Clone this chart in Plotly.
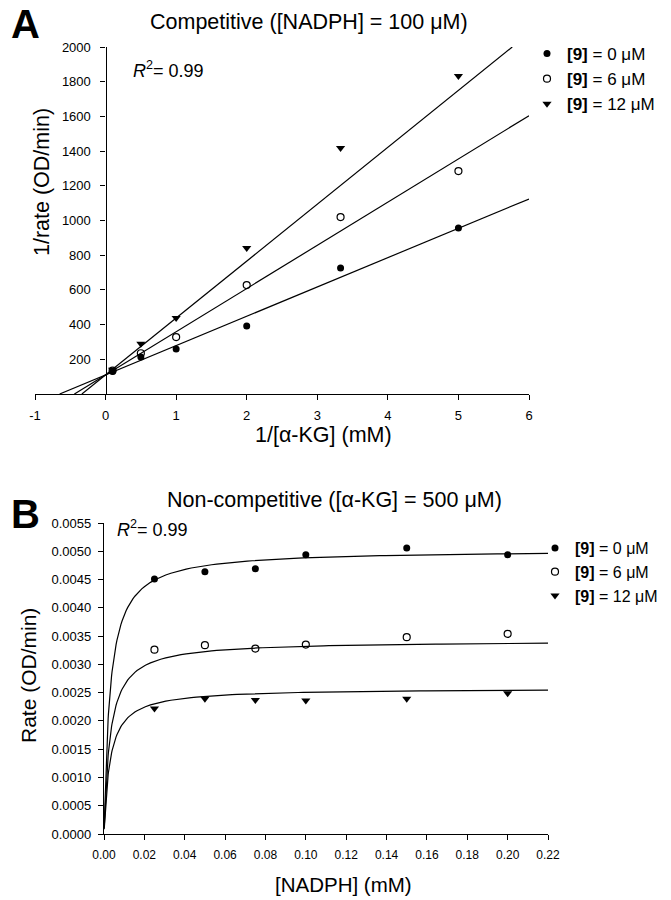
import numpy as np
import plotly.graph_objects as go

# ---------------- Data ----------------
# Panel A: Lineweaver-Burk, competitive
lb_x = [0.1, 0.5, 1.0, 2.0, 3.33, 5.0]
lb_y0 = [130, 213, 259, 392, 726, 957]      # [9] = 0 uM
lb_y6 = [135, 235, 328, 628, 1020, 1285]    # [9] = 6 uM
lb_y12 = [140, 290, 438, 841, 1418, 1833]   # [9] = 12 uM
lb_intercept = 110                           # shared 1/Vmax
lb_slopes = [169, 249, 328]                  # fitted slopes per inhibitor level

# Panel B: Michaelis-Menten, non-competitive
mm_x = [0.025, 0.05, 0.075, 0.10, 0.15, 0.20]
mm_y0 = [0.00451, 0.00464, 0.00469, 0.00494, 0.00506, 0.00494]
mm_y6 = [0.00326, 0.00334, 0.00328, 0.00335, 0.00348, 0.00354]
mm_y12 = [0.00222, 0.00239, 0.00237, 0.00236, 0.00239, 0.00249]
mm_km = 0.003                                # shared Km (mM)
mm_vmax = [0.00503, 0.00342, 0.00258]        # fitted Vmax per inhibitor level

series_names = ["<b>[9]</b> = 0 μM", "<b>[9]</b> = 6 μM", "<b>[9]</b> = 12 μM"]

A_xticks = [-1, 0, 1, 2, 3, 4, 5, 6]
A_xticktext = ["-1", "0", "1", "2", "3", "4", "5", "6"]
A_yticks = [200, 400, 600, 800, 1000, 1200, 1400, 1600, 1800, 2000]
B_xticks = [0.00, 0.02, 0.04, 0.06, 0.08, 0.10, 0.12, 0.14, 0.16, 0.18, 0.20, 0.22]
B_yticks = [0.0000, 0.0005, 0.0010, 0.0015, 0.0020, 0.0025, 0.0030, 0.0035,
            0.0040, 0.0045, 0.0050, 0.0055]

# ---------------- Styling ----------------
OFF = 8                      # page body margin
W, H = 671 - OFF, 900 - OFF  # figure size so it ends at the window edge
FONT = "Liberation Sans, Arial, sans-serif"
markers = [
    dict(symbol="circle", size=7, color="black"),
    dict(symbol="circle-open", size=7, color="black", line=dict(width=1.2, color="black")),
    dict(symbol="triangle-down", size=8, color="black"),
]

def px(x):  # screen pixel -> paper fraction
    return (x - OFF) / W

def py(y):
    return 1 - (y - OFF) / H

A_xrange = [-1, 6]
A_yrange = [0, 2000]
A_xdom = [px(35), px(529)]
A_ydom = [py(394), py(47)]
B_xdom = [px(104), px(548)]
B_ydom = [py(834), py(523)]

fig = go.Figure()

# Panel A fit lines
for m in lb_slopes:
    xs = -lb_intercept / m
    xe = min(A_xrange[1], (A_yrange[1] - lb_intercept) / m)
    fig.add_trace(go.Scatter(
        x=[xs, xe], y=[lb_intercept + m * xs, lb_intercept + m * xe],
        mode="lines", line=dict(color="black", width=1.2),
        showlegend=False, hoverinfo="skip", xaxis="x", yaxis="y"))

# Panel A points
for i, ys in enumerate([lb_y0, lb_y6, lb_y12]):
    fig.add_trace(go.Scatter(
        x=lb_x, y=ys, mode="markers", marker=markers[i],
        name=series_names[i], legend="legend",
        xaxis="x", yaxis="y"))

# Panel B fit curves
s_grid = np.concatenate([np.geomspace(0.0001, 0.02, 80), np.linspace(0.0205, 0.22, 80)])
for vmax in mm_vmax:
    fig.add_trace(go.Scatter(
        x=s_grid, y=vmax * s_grid / (mm_km + s_grid),
        mode="lines", line=dict(color="black", width=1.2),
        showlegend=False, hoverinfo="skip", xaxis="x2", yaxis="y2"))

# Panel B points
for i, ys in enumerate([mm_y0, mm_y6, mm_y12]):
    fig.add_trace(go.Scatter(
        x=mm_x, y=ys, mode="markers", marker=markers[i],
        name=series_names[i], legend="legend2",
        xaxis="x2", yaxis="y2"))

def axis_common(size, standoff=4):
    return dict(
        showline=True, linecolor="black", linewidth=1.3, ticks="outside",
        ticklen=5, tickwidth=1.2, tickcolor="black", showgrid=False,
        zeroline=False, automargin=False, ticklabelstandoff=standoff,
        tickfont=dict(family=FONT, size=size, color="black"),
    )

yA_pos = A_xdom[0] + (0 - A_xrange[0]) / (A_xrange[1] - A_xrange[0]) * (A_xdom[1] - A_xdom[0])

fig.update_layout(
    width=W, height=H,
    margin=dict(l=0, r=0, t=0, b=0, autoexpand=False),
    paper_bgcolor="white", plot_bgcolor="white",
    font=dict(family=FONT, color="black"),
    xaxis=dict(domain=A_xdom, range=A_xrange, tickvals=A_xticks, ticktext=A_xticktext,
               anchor="y", **axis_common(13)),
    yaxis=dict(domain=A_ydom, range=A_yrange, tickvals=A_yticks, anchor="free",
               position=yA_pos, **axis_common(13, 7)),
    xaxis2=dict(domain=B_xdom, range=[0, 0.22], tickvals=B_xticks, tickformat=".2f",
                anchor="y2", **axis_common(12)),
    yaxis2=dict(domain=B_ydom, range=[0, 0.0055], tickvals=B_yticks, tickformat=".4f",
                anchor="x2", **axis_common(13)),
    legend=dict(x=px(527), y=py(36), xanchor="left", yanchor="top",
                font=dict(family=FONT, size=17, color="black"),
                bgcolor="rgba(0,0,0,0)", itemwidth=30),
    legend2=dict(x=px(535), y=py(531), xanchor="left", yanchor="top",
                 font=dict(family=FONT, size=16, color="black"),
                 bgcolor="rgba(0,0,0,0)", itemwidth=30),
    showlegend=True,
)

ann = []
def add_text(text, x, y, size, bold=False, angle=0):
    ann.append(dict(text=f"<b>{text}</b>" if bold else text, x=px(x), y=py(y),
                    xref="paper", yref="paper", showarrow=False,
                    xanchor="center", yanchor="middle", textangle=angle,
                    font=dict(family=FONT, size=size, color="black")))

add_text("A", 25, 24, 40, bold=True)
add_text("B", 25, 514, 40, bold=True)
add_text("Competitive ([NADPH] = 100 μM)", 309, 22, 21.5)
add_text("Non-competitive ([α-KG] = 500 μM)", 334, 500, 21.5)
add_text("<i>R</i><sup>2</sup>= 0.99", 168, 70, 18)
add_text("<i>R</i><sup>2</sup>= 0.99", 152, 528, 18)
add_text("1/rate (OD/min)", 42, 182, 21.5, angle=-90)
add_text("1/[α-KG] (mM)", 323, 435, 21.5)
add_text("Rate (OD/min)", 28, 676, 21, angle=-90)
add_text("[NADPH] (mM)", 343, 884, 20.5)
fig.update_layout(annotations=ann)

fig.write_html("out.html")
